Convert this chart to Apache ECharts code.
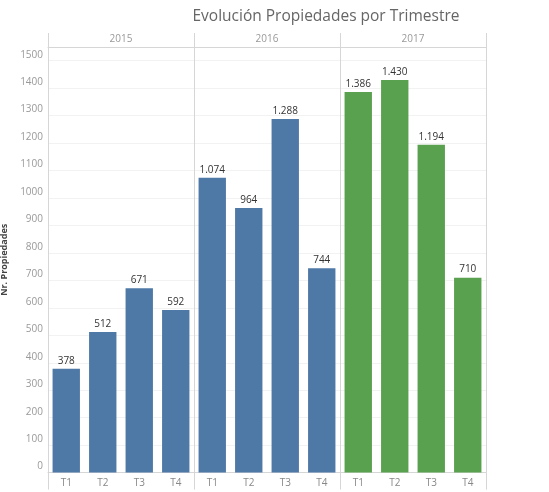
<!DOCTYPE html>
<html><head><meta charset="utf-8">
<script src="https://cdn.jsdelivr.net/npm/echarts@6/dist/echarts.min.js"></script>
<style>html,body{margin:0;padding:0;background:#fff}#c{width:549px;height:492px}</style>
</head><body><div id="c"></div>
<script>
const years = ['2015', '2016', '2017'];
const quarters = ['T1', 'T2', 'T3', 'T4'];
const values2015 = [378, 512, 671, 592];
const values2016 = [1074, 964, 1288, 744];
const values2017 = [1386, 1430, 1194, 710];
const yearColors = ['#4e79a7', '#4e79a7', '#59a14f'];

const cats = [], data = [];
[values2015, values2016, values2017].forEach((vals, yi) => {
  vals.forEach((v, qi) => {
    cats.push(years[yi] + '-' + quarters[qi]);
    data.push({ value: v, itemStyle: { color: yearColors[yi] } });
  });
});
const fmt = v => String(v).replace(/\B(?=(\d{3})+(?!\d))/g, '.');

const chart = echarts.init(document.getElementById('c'), null, { renderer: 'canvas' });
chart.setOption({
  animation: false,
  title: {
    text: 'Evolución Propiedades por Trimestre',
    left: 321, top: 4, textAlign: 'center',
    textStyle: { fontFamily: 'Open Sans', fontWeight: 'normal', fontSize: 15.5, color: '#666' }
  },
  grid: { left: 48, right: 63, top: 47, bottom: 19.4, containLabel: false, outerBoundsMode: 'none' },
  xAxis: [
    {
      type: 'category', data: cats, position: 'bottom',
      axisLine: { lineStyle: { color: '#d6d6d6' } },
      axisTick: { show: false },
      axisLabel: { formatter: v => v.split('-')[1], color: '#888', fontSize: 10, margin: 6, fontFamily: 'Open Sans' }
    },
    {
      type: 'category', data: years, position: 'top',
      axisLine: { show: true, lineStyle: { color: '#d6d6d6' } },
      axisTick: { show: true, length: 14, lineStyle: { color: '#d6d6d6' } },
      axisLabel: { color: '#999', fontSize: 10, margin: 3, fontFamily: 'Open Sans' },
      splitLine: { show: true, lineStyle: { color: '#d6d6d6' } }
    },
    {
      type: 'category', data: years, position: 'bottom',
      axisLine: { show: false },
      axisTick: { show: true, length: 17, lineStyle: { color: '#d6d6d6' } },
      axisLabel: { show: false },
      splitLine: { show: false }
    }
  ],
  yAxis: {
    type: 'value', min: 0, max: 1550, interval: 100,
    name: 'Nr. Propiedades', nameLocation: 'middle', nameGap: 33, nameRotate: 90,
    nameTextStyle: { color: '#444', fontSize: 9, fontWeight: 'bold', fontFamily: 'Open Sans' },
    axisLine: { show: false }, axisTick: { show: false },
    axisLabel: { color: '#999', fontSize: 10, margin: 5, showMaxLabel: false, fontFamily: 'Open Sans',
      verticalAlign: 'bottom', lineHeight: 12, formatter: v => String(v) },
    splitLine: { lineStyle: { color: '#f2f2f2' } }
  },
  series: [{
    type: 'bar', xAxisIndex: 0, data: data, barWidth: '75%',
    label: { show: true, position: 'top', distance: 3, color: '#333', fontSize: 10, fontFamily: 'Open Sans',
      formatter: p => fmt(p.value) }
  }]
});
</script></body></html>
